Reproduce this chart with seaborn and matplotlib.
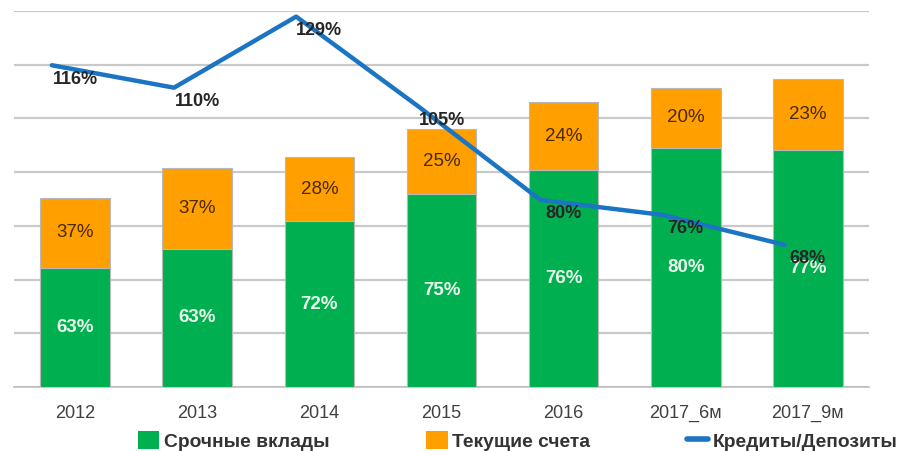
import numpy as np
import matplotlib
matplotlib.use("Agg")
import matplotlib.pyplot as plt
import seaborn as sns
from matplotlib.patches import Patch
from matplotlib.lines import Line2D

# data (bar totals in grid units, shares in %)
years = ["2012", "2013", "2014", "2015", "2016", "2017_6м", "2017_9м"]
totals = [3.52, 4.08, 4.28, 4.80, 5.31, 5.57, 5.74]
term_share = [63, 63, 72, 75, 76, 80, 77]
current_share = [37, 37, 28, 25, 24, 20, 23]
loans_to_deposits = [116, 110, 129, 105, 80, 76, 68]

GREEN = "#00b050"
ORANGE = "#ffa000"
BLUE = "#1c75c2"
GRID = "#c9c9c9"

sns.set_style("white")
plt.rcParams["font.family"] = ["Liberation Sans", "DejaVu Sans"]

fig = plt.figure(figsize=(9.02, 4.51), dpi=100)
ax = fig.add_axes([14 / 902, 64 / 451, 855 / 902, 376 / 451])

term_vals = [t * s / 100 for t, s in zip(totals, term_share)]

sns.barplot(x=years, y=totals, color=ORANGE, width=0.57, saturation=1,
            edgecolor="#b8b8b8", linewidth=0.8, ax=ax, zorder=2)
sns.barplot(x=years, y=term_vals, color=GREEN, width=0.57, saturation=1,
            edgecolor="#b8b8b8", linewidth=0.8, ax=ax, zorder=3)

# line on secondary axis
ax2 = ax.twinx()
ax2.set_ylim(30, 130.5)
ax2.axis("off")
line_x = np.arange(len(years)) - 0.19
sns.lineplot(x=line_x, y=loans_to_deposits, color=BLUE, linewidth=3.2,
             ax=ax2, zorder=6)
for i, v in enumerate(loans_to_deposits):
    ax2.annotate(f"{v}%", (i, v), xytext=(0, -10), textcoords="offset points",
                 ha="center", va="center", fontsize=13, fontweight="bold",
                 color="#262626", zorder=7)

ax.set_xlim(-0.5, 6.5)
ax.set_ylim(0, 7)
ax.set_yticks(np.arange(0, 8))
ax.yaxis.grid(True, color=GRID, linewidth=1.6, zorder=0)
ax.set_axisbelow(True)
ax.tick_params(axis="y", which="both", left=False, right=False,
               labelleft=False, labelright=False)
for s in ["top", "right", "left"]:
    ax.spines[s].set_visible(False)
ax.spines["bottom"].set_color("#bfbfbf")
ax.spines["bottom"].set_linewidth(1.2)
ax.set_xlabel("")
ax.set_ylabel("")
ax.set_xticks(range(len(years)))
ax.set_xticklabels(years)
ax.set_xticks(np.arange(-0.5, 7, 1), minor=True)
ax.tick_params(axis="x", which="major", length=0, pad=13, labelsize=13,
               labelcolor="#404040")
ax.tick_params(axis="x", which="minor", length=7, width=1.2, color="#bfbfbf")

# segment labels
for i in range(len(years)):
    g = term_vals[i]
    ax.text(i, g / 2, f"{term_share[i]}%", ha="center", va="center",
            fontsize=13.5, fontweight="bold", color="#e8f6ea", zorder=5)
    ax.text(i, (g + totals[i]) / 2, f"{current_share[i]}%", ha="center",
            va="center", fontsize=13.5, color="#4a2800", zorder=5)

handles = [Patch(facecolor=GREEN, edgecolor="none"),
           Patch(facecolor=ORANGE, edgecolor="none"),
           Line2D([0], [0], color=BLUE, linewidth=4)]
labels = ["Срочные вклады", "Текущие счета", "Кредиты/Депозиты"]
fig.legend(handles, labels, loc="center", bbox_to_anchor=(518 / 902, 10 / 451),
           ncol=3, frameon=False, handlelength=1.1, handleheight=1.0,
           handletextpad=0.25, columnspacing=5.0,
           prop={"size": 13.9, "weight": "bold"}, labelcolor="#333333")

fig.savefig("out.png", dpi=100)
